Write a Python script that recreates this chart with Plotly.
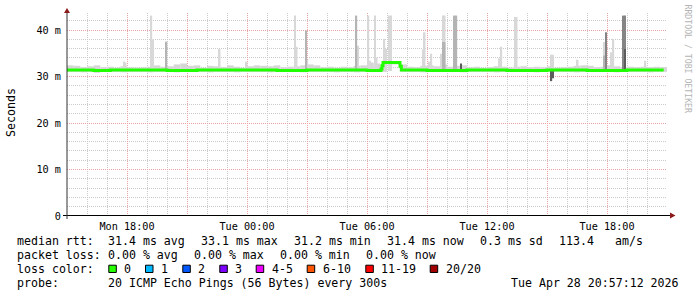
import pandas as pd
import plotly.graph_objects as go

# ---------------- data ----------------
range_start = "2026-04-27 15:00"
range_end = "2026-04-28 21:00"

tick_times = ["2026-04-27 15:00", "2026-04-27 18:00", "2026-04-27 21:00",
              "2026-04-28 00:00", "2026-04-28 03:00", "2026-04-28 06:00",
              "2026-04-28 09:00", "2026-04-28 12:00", "2026-04-28 15:00",
              "2026-04-28 18:00", "2026-04-28 21:00"]
tick_labels = ["", "Mon 18:00", "", "Tue 00:00", "", "Tue 06:00", "",
               "Tue 12:00", "", "Tue 18:00", ""]
y_ticks = [0, 10, 20, 30, 40]
y_tick_labels = ["0", "10 m", "20 m", "30 m", "40 m"]

# base smoke band in 20-minute bins (ms)
smoke_bin_start = "2026-04-27 15:00"
smoke_hi = [32.4, 32.3, 32.0, 32.2, 32.4, 32.0, 32.1, 31.9, 32.2, 32.0,
            31.9, 32.0, 32.1, 32.4, 32.1, 32.2, 32.6, 32.8, 32.3, 32.4,
            31.9, 32.3, 32.2, 32.0, 32.4, 32.1, 31.9, 32.2, 32.4, 32.3,
            32.2, 32.4, 32.0, 32.1, 32.2, 32.4, 32.6, 32.4, 32.0, 32.1,
            31.9, 32.1, 32.0, 32.3, 32.4, 33.0, 32.8, 32.4, 33.3, 33.3,
            32.6, 32.1, 32.0, 32.3, 32.4, 32.2, 32.6, 32.1, 32.3, 32.4,
            32.0, 32.1, 31.9, 32.0, 32.2, 32.1, 31.9, 32.1, 32.2, 32.0,
            32.1, 32.0, 32.2, 31.9, 32.0, 32.1, 32.3, 32.4, 32.3, 32.0,
            32.1, 32.4, 32.2, 32.0, 32.1, 32.0, 32.1, 32.0, 32.1, 32.0]
smoke_lo = [31.0, 31.0, 30.9, 31.0, 30.8, 31.0, 31.0, 31.0, 30.9, 31.0,
            31.0, 31.0, 30.9, 31.0, 31.0, 31.0, 30.9, 31.0, 31.0, 31.0,
            31.0, 30.9, 31.0, 31.0, 31.0, 30.9, 31.0, 31.0, 31.0, 31.0,
            30.9, 31.0, 31.0, 31.0, 31.0, 30.9, 31.0, 31.0, 31.0, 31.0,
            30.9, 31.0, 31.0, 30.9, 31.0, 31.0, 31.0, 31.0, 32.6, 32.6,
            31.0, 31.0, 31.0, 30.9, 31.0, 31.0, 31.0, 31.0, 31.0, 30.9,
            31.0, 31.0, 31.0, 31.0, 30.9, 31.0, 31.0, 31.0, 31.0, 31.0,
            30.9, 31.0, 31.0, 31.0, 31.0, 31.0, 30.9, 31.0, 31.0, 31.0,
            31.0, 31.0, 30.9, 31.0, 31.0, 31.0, 31.0, 30.9, 31.0, 31.0]

# individual 5-minute steps with wide ping spread (ms)
light_time = ["2026-04-27 17:51", "2026-04-27 17:56", "2026-04-27 19:13", "2026-04-27 19:18",
              "2026-04-27 22:38", "2026-04-27 23:59", "2026-04-28 02:24", "2026-04-28 02:29",
              "2026-04-28 03:01", "2026-04-28 05:33", "2026-04-28 06:04", "2026-04-28 06:09",
              "2026-04-28 06:24", "2026-04-28 06:29", "2026-04-28 06:52", "2026-04-28 06:57",
              "2026-04-28 07:07", "2026-04-28 07:12", "2026-04-28 08:48", "2026-04-28 08:53",
              "2026-04-28 09:08", "2026-04-28 09:13", "2026-04-28 09:43", "2026-04-28 09:48",
              "2026-04-28 09:53", "2026-04-28 12:38", "2026-04-28 12:43", "2026-04-28 13:24",
              "2026-04-28 13:29", "2026-04-28 15:13", "2026-04-28 15:18", "2026-04-28 16:32",
              "2026-04-28 17:52", "2026-04-28 17:57", "2026-04-28 18:14", "2026-04-28 18:19",
              "2026-04-28 19:55"]
light_hi = [33.2, 33.0, 43.1, 38.0,
            35.9, 33.2, 43.1, 36.4,
            33.6, 36.6, 43.1, 33.4,
            43.1, 34.1, 38.1, 35.9,
            43.1, 43.1, 35.8, 39.5,
            33.2, 34.9, 34.9, 43.1,
            43.1, 33.9, 36.4, 42.8,
            42.8, 34.7, 34.7, 33.6,
            37.4, 37.4, 35.2, 38.1,
            33.4]
light_lo = 31.2

mid_time = ["2026-04-27 19:58", "2026-04-28 02:57", "2026-04-28 05:28", "2026-04-28 09:48",
            "2026-04-28 09:53", "2026-04-28 10:23", "2026-04-28 10:28", "2026-04-28 17:52"]
mid_hi = [37.5, 39.9, 43.1, 37.4, 37.4, 43.1, 43.1, 34.5]
mid_lo = 31.2

dark_time = ["2026-04-28 17:57", "2026-04-28 18:49", "2026-04-28 18:54"]
dark_hi = [39.5, 43.1, 43.1]
dark_lo = 31.2

core_time = ["2026-04-28 10:42", "2026-04-28 15:13", "2026-04-28 15:18", "2026-04-28 18:54"]
core_hi = [32.8, 31.4, 31.4, 35.9]
core_lo = [31.4, 29.0, 29.6, 31.4]

# median rtt (ms), stepwise
median_time = ["2026-04-27 15:00", "2026-04-27 16:20", "2026-04-27 17:10", "2026-04-27 18:40",
               "2026-04-27 20:00", "2026-04-27 21:30", "2026-04-28 00:00", "2026-04-28 01:30",
               "2026-04-28 03:00", "2026-04-28 04:40", "2026-04-28 06:00", "2026-04-28 06:42",
               "2026-04-28 06:45", "2026-04-28 06:48", "2026-04-28 07:39", "2026-04-28 07:43",
               "2026-04-28 09:00", "2026-04-28 11:00", "2026-04-28 13:00", "2026-04-28 15:00",
               "2026-04-28 17:00", "2026-04-28 19:00", "2026-04-28 20:50"]
median_val = [31.4, 31.3, 31.4, 31.4,
              31.3, 31.4, 31.4, 31.3,
              31.4, 31.4, 31.3, 31.6,
              32.3, 33.0, 32.2, 31.4,
              31.3, 31.4, 31.3, 31.4,
              31.3, 31.4, 31.4]

stats_rtt = ["median rtt:", "31.4 ms avg", "33.1 ms max", "31.2 ms min", "31.4 ms now",
             "0.3 ms sd", "113.4", "am/s"]
stats_loss = ["packet loss:", "0.00 % avg", "0.00 % max", "0.00 % min", "0.00 % now"]
loss_labels = ["0", "1", "2", "3", "4-5", "6-10", "11-19", "20/20"]
loss_colors = ["#26ff00", "#00b8ff", "#0059ff", "#7e00ff", "#ee00ff", "#ff5500", "#ff0000", "#a10000"]
probe_text = "20 ICMP Echo Pings (56 Bytes) every 300s"
stamp_text = "Tue Apr 28 20:57:12 2026"

# ---------------- figure ----------------
STEP_MS = 5 * 60 * 1000
BIN_MS = 20 * 60 * 1000
MONO = "DejaVu Sans Mono"

bin_centers = pd.date_range(smoke_bin_start, periods=len(smoke_hi), freq="20min") + pd.Timedelta(minutes=10)

fig = go.Figure()
fig.add_trace(go.Bar(x=bin_centers, base=smoke_lo,
                     y=[h - l for h, l in zip(smoke_hi, smoke_lo)],
                     width=BIN_MS, marker=dict(color="#d6d6d6", line=dict(width=0)),
                     hoverinfo="skip"))


def spike_trace(times, hi, lo, color):
    los = lo if isinstance(lo, list) else [lo] * len(hi)
    return go.Bar(x=pd.to_datetime(times), base=los,
                  y=[h - l for h, l in zip(hi, los)], width=STEP_MS,
                  marker=dict(color=color, line=dict(width=0)), hoverinfo="skip")


fig.add_trace(spike_trace(light_time, light_hi, light_lo, "#d8d8d8"))
fig.add_trace(spike_trace(mid_time, mid_hi, mid_lo, "#b4b4b4"))
fig.add_trace(spike_trace(dark_time, dark_hi, dark_lo, "#858585"))
fig.add_trace(spike_trace(core_time, core_hi, core_lo, "#5c5c5c"))

fig.add_trace(go.Scatter(x=pd.to_datetime(median_time), y=median_val, mode="lines",
                         line=dict(color="#22ff00", width=3, shape="hv"), hoverinfo="skip"))

L, T, W, H = 67, 13, 600, 203


def px(x):
    return (x - L) / W


def py(y):
    return (T + H - y) / H


fig.update_layout(
    width=697, height=297,
    margin=dict(l=L, r=697 - L - W, t=T, b=297 - T - H, pad=0),
    paper_bgcolor="white", plot_bgcolor="white",
    barmode="overlay", showlegend=False,
    font=dict(family=MONO, size=10.2, color="#000"),
    xaxis=dict(type="date", range=[range_start, range_end],
               tickmode="array", tickvals=tick_times, ticktext=tick_labels,
               showgrid=True, gridcolor="#eba3a3", griddash="1px,1px", gridwidth=1,
               minor=dict(dtick=3600000, tick0=range_start, showgrid=True,
                          gridcolor="#cbcbcb", griddash="1px,1px", gridwidth=1),
               showline=False, zeroline=False, ticks="", ticklabelstandoff=3,
               tickfont=dict(family=MONO, size=10.2, color="#000")),
    yaxis=dict(range=[0, H / 4.65], tickmode="array", tickvals=y_ticks, ticktext=y_tick_labels,
               showgrid=True, gridcolor="#eba3a3", griddash="1px,1px", gridwidth=1,
               minor=dict(dtick=2, tick0=0, showgrid=True,
                          gridcolor="#cbcbcb", griddash="1px,1px", gridwidth=1),
               showline=False, zeroline=False, ticks="", ticklabelstandoff=5,
               tickfont=dict(family=MONO, size=10.2, color="#000")),
)

shapes = []
# axes with arrows
shapes.append(dict(type="line", xref="paper", yref="paper", x0=px(63), x1=px(671),
                   y0=py(215.5), y1=py(215.5), line=dict(color="#000", width=1)))
shapes.append(dict(type="line", xref="paper", yref="paper", x0=px(67), x1=px(67),
                   y0=py(219), y1=py(11), line=dict(color="#333", width=1)))
shapes.append(dict(type="path", xref="paper", yref="paper",
                   path=f"M {px(670)} {py(212.5)} L {px(675.5)} {py(215.5)} L {px(670)} {py(218.5)} Z",
                   fillcolor="#8b1a1a", line=dict(color="#8b1a1a", width=0)))
shapes.append(dict(type="path", xref="paper", yref="paper",
                   path=f"M {px(64)} {py(13)} L {px(67)} {py(8)} L {px(70)} {py(13)} Z",
                   fillcolor="#8b1a1a", line=dict(color="#8b1a1a", width=0)))

annotations = []


def txt(x, y, s, anchor="left", size=11.6, color="#000", angle=0, family=MONO):
    annotations.append(dict(x=px(x), y=py(y), xref="paper", yref="paper", text=s,
                            showarrow=False, xanchor=anchor, yanchor="middle",
                            textangle=angle, borderpad=0,
                            font=dict(family=family, size=size, color=color)))


# axis title & watermark
txt(11, 113, "Seconds", anchor="center", angle=-90, size=11.6)
txt(687.5, 59, "RRDTOOL / TOBI OETIKER", anchor="center", angle=90, size=8.2, color="#b4b4b4")

row_y = [241.0, 255.0, 269.0, 283.0]
for s, x in zip(stats_rtt, [16, 107.3, 200, 292.7, 386.3, 479.3, 558, 613.7]):
    txt(x, row_y[0], s)
for s, x in zip(stats_loss, [16, 107.3, 193.3, 279.3, 365.3]):
    txt(x, row_y[1], s)
txt(16, row_y[2], "loss color:")
for s, c, x in zip(loss_labels, loss_colors, [123.3, 160, 197.3, 234.3, 270.7, 321.7, 380.3, 444.7]):
    shapes.append(dict(type="rect", xref="paper", yref="paper",
                       x0=px(x - 14.5), x1=px(x - 7), y0=py(272.5), y1=py(265.2),
                       fillcolor=c, line=dict(color="#000", width=1)))
    txt(x, row_y[2], s)
txt(16, row_y[3], "probe:")
txt(107.3, row_y[3], probe_text)
txt(680, row_y[3], stamp_text, anchor="right")

fig.update_layout(shapes=shapes, annotations=annotations)
fig.write_html("out.html")
